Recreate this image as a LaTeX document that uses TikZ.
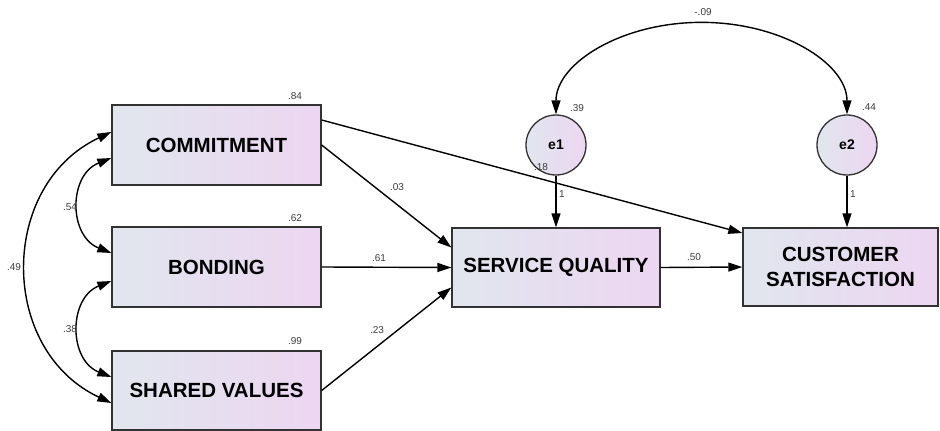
\documentclass[tikz,border=0pt]{standalone}
\usepackage{fontspec}
\setmainfont{Liberation Sans}
\usetikzlibrary{arrows.meta,calc}
\definecolor{gl}{RGB}{225,230,238}
\definecolor{gr}{RGB}{236,214,241}
\definecolor{bd}{RGB}{50,50,50}
\definecolor{lbl}{RGB}{60,60,60}
\tikzset{
  var/.style={draw=bd,line width=1.3pt,left color=gl,right color=gr,
    font=\fontsize{20.5}{25}\selectfont\bfseries,align=center,inner sep=0pt},
  err/.style={circle,draw=bd,line width=1.3pt,left color=gl,right color=gr,
    minimum size=60pt,inner sep=0pt,font=\fontsize{14}{16}\selectfont\bfseries},
  lab/.style={font=\fontsize{10}{12}\selectfont,text=lbl,inner sep=0pt},
  arr/.style={line width=1.4pt,draw=black,-{Triangle[length=14pt,width=9pt]}},
  cov/.style={line width=1.4pt,draw=black,{Triangle[length=14pt,width=9pt]}-{Triangle[length=14pt,width=9pt]}}
}
\begin{document}
\begin{tikzpicture}[x=1pt,y=-1pt]
\useasboundingbox[fill=white] (0,0) rectangle (940,431);
\node[var,minimum width=209pt,minimum height=80pt] (com) at (216.5,145) {COMMITMENT};
\node[var,minimum width=209pt,minimum height=80pt] (bon) at (216.5,267) {BONDING};
\node[var,minimum width=209pt,minimum height=79pt] (sv) at (216.5,390.5) {SHARED VALUES};
\node[var,minimum width=208pt,minimum height=79pt] (sq) at (556,267.5) {SERVICE QUALITY};
\node[var,minimum width=195pt,minimum height=78pt] (cs) at (840.5,267) {CUSTOMER\\SATISFACTION};
\node[err] (e1) at (556,145) {e1};
\node[err] (e2) at (847,145) {e2};

% paths
\draw[arr] ([yshift=25pt]com.east) -- ([yshift=34pt]cs.west);
\draw[arr] (com.east) -- ([yshift=20pt]sq.west);
\draw[arr] (bon.east) -- (sq.west);
\draw[arr] (sv.east) -- ([yshift=-20pt]sq.west);
\draw[arr] (sq.east) -- (cs.west);
\draw[arr] (e1.south) -- (sq.north);
\draw[arr] (e2.south) -- (cs.north -| e2.south);

% covariances
\draw[cov] ([yshift=-13pt]com.west) .. controls +(-43,17) and +(-43,-17) .. ([yshift=14pt]bon.west);
\draw[cov] ([yshift=-14pt]bon.west) .. controls +(-43,17) and +(-43,-17) .. ([yshift=13.5pt]sv.west);
\draw[cov] ([yshift=13pt]com.west) .. controls +(-113,53) and +(-113,-53) .. ([yshift=-12.5pt]sv.west);
\draw[cov] (e1.north) arc[start angle=180,end angle=360,x radius=145.5,y radius=92];

% labels
\node[lab] (l84) at (295,96) {.84};
\node[lab] (l62) at (295,218) {.62};
\node[lab] (l99) at (295,341) {.99};
\node[lab] (l54) at (70,207) {.54};
\node[lab] (l38) at (70,329) {.38};
\node[lab] (l49) at (14,267) {.49};
\node[lab] (l03) at (397,187) {.03};
\node[lab] (l61) at (379,258) {.61};
\node[lab] (l23) at (377,330) {.23};
\node[lab] (l50) at (694,257) {.50};
\node[lab] (l09) at (703,12) {-.09};
\node[lab] (l39) at (577,108) {.39};
\node[lab] (l44) at (869,107) {.44};
\node[lab] (l18) at (541,167) {.18};
\node[lab] (l1a) at (562,194) {1};
\node[lab] (l1b) at (853,194) {1};
\end{tikzpicture}
\end{document}
